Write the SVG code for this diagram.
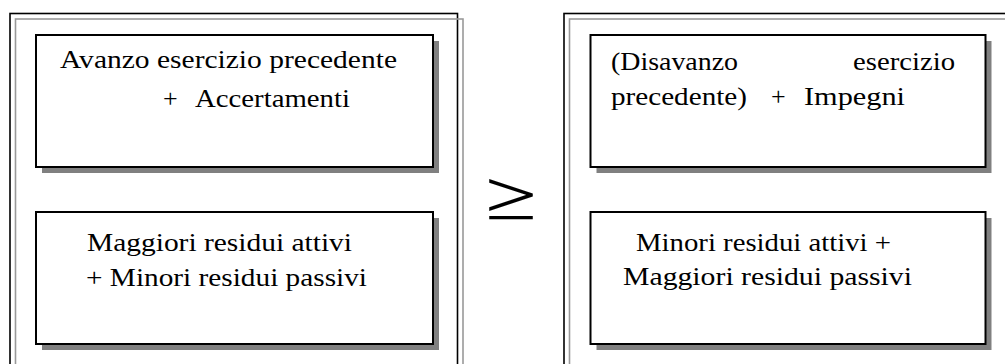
<svg xmlns="http://www.w3.org/2000/svg" width="1005" height="364" viewBox="0 0 1005 364">
  <style>
    .frame-outer { fill: none; stroke: #000; stroke-width: 1.6; }
    .frame-inner { fill: none; stroke: #999; stroke-width: 1.6; }
    .shadow { fill: #808080; }
    .box { fill: #fff; stroke: #000; stroke-width: 2; }
    .t { font-family: 'Liberation Serif', 'Times New Roman', Times, serif; font-size: 26px; fill: #000; }
    .rel { font-family: Inter, 'Liberation Sans', sans-serif; font-weight: 200; font-size: 80px; fill: #000; }
  </style>
  <rect width="1005" height="364" fill="#fff"/>

  <!-- left panel: double frame -->
  <g id="left-panel">
    <rect class="frame-outer" x="10" y="13.5" width="447.5" height="370"/>
    <rect class="frame-inner" x="15.5" y="19" width="447.5" height="370"/>
  </g>

  <!-- right panel: double frame, runs past the right edge -->
  <g id="right-panel">
    <rect class="frame-outer" x="564" y="13.5" width="460" height="370"/>
    <rect class="frame-inner" x="569.5" y="19" width="460" height="370"/>
  </g>

  <g id="box-avanzo">
    <rect class="shadow" x="42" y="41" width="397" height="132"/>
    <rect class="box" x="36" y="35" width="397" height="132"/>
    <text class="t" x="60" y="68" textLength="337" lengthAdjust="spacingAndGlyphs">Avanzo esercizio precedente</text>
    <text class="t" y="107"><tspan x="163">+</tspan><tspan x="195" textLength="155" lengthAdjust="spacingAndGlyphs">Accertamenti</tspan></text>
  </g>

  <g id="box-residui-left">
    <rect class="shadow" x="42" y="218" width="397" height="132"/>
    <rect class="box" x="36" y="212" width="397" height="132"/>
    <text class="t" x="87" y="251" textLength="265" lengthAdjust="spacingAndGlyphs">Maggiori residui attivi</text>
    <text class="t" x="86" y="286" textLength="281" lengthAdjust="spacingAndGlyphs">+ Minori residui passivi</text>
  </g>

  <g id="box-disavanzo">
    <rect class="shadow" x="596.5" y="41" width="395" height="132"/>
    <rect class="box" x="590.5" y="35" width="395" height="132"/>
    <text class="t" y="70"><tspan x="611" textLength="127" lengthAdjust="spacingAndGlyphs">(Disavanzo</tspan><tspan x="853" textLength="102" lengthAdjust="spacingAndGlyphs">esercizio</tspan></text>
    <text class="t" y="105"><tspan x="611" textLength="136" lengthAdjust="spacingAndGlyphs">precedente)</tspan><tspan x="771">+</tspan><tspan x="804" textLength="101" lengthAdjust="spacingAndGlyphs">Impegni</tspan></text>
  </g>

  <g id="box-residui-right">
    <rect class="shadow" x="596.5" y="218" width="395" height="132"/>
    <rect class="box" x="590.5" y="212" width="395" height="132"/>
    <text class="t" x="636" y="251" textLength="255" lengthAdjust="spacingAndGlyphs">Minori residui attivi +</text>
    <text class="t" x="623" y="285" textLength="289" lengthAdjust="spacingAndGlyphs">Maggiori residui passivi</text>
  </g>

  <g id="relation">
    <text class="rel" transform="translate(511,223) scale(1.3,1)" text-anchor="middle">≥</text>
  </g>
</svg>
